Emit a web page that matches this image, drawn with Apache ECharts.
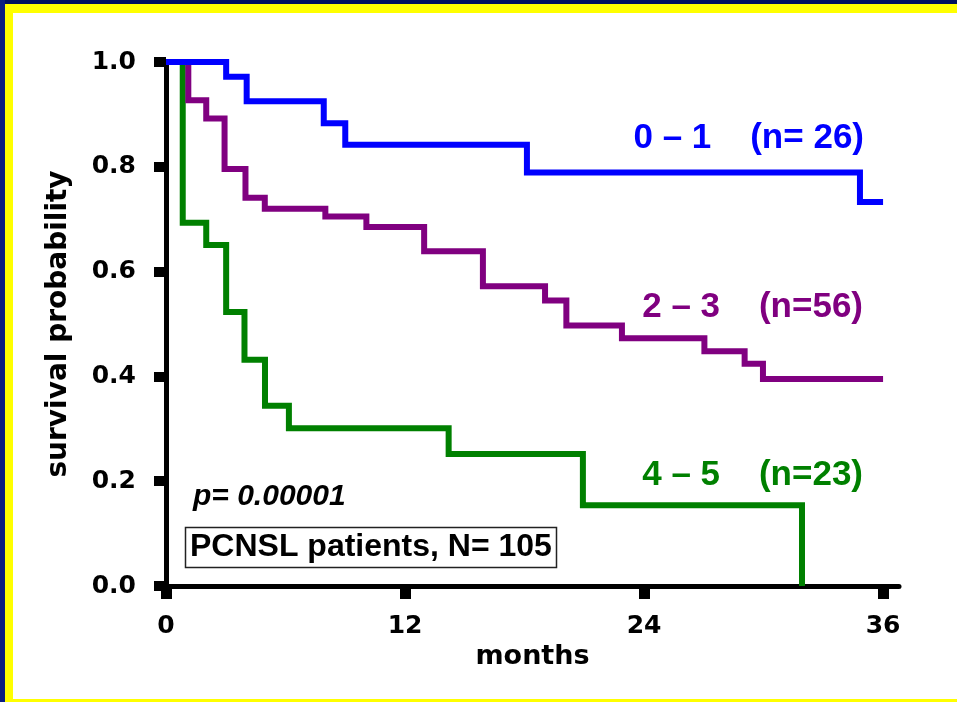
<!DOCTYPE html>
<html>
<head>
<meta charset="utf-8">
<script src="https://cdn.jsdelivr.net/npm/echarts@6/dist/echarts.min.js"></script>
<style>
  html, body { margin: 0; padding: 0; background: #ffffff; }
  #wrap { position: relative; width: 957px; height: 702px; overflow: hidden; background: #ffffff; }
  #chart { position: absolute; left: 0; top: 0; width: 957px; height: 702px; }
  .fr { position: absolute; z-index: 5; }
</style>
</head>
<body>
<div id="wrap">
  <div id="chart"></div>
  <div class="fr" style="left:0;top:0;width:957px;height:4px;background:#001060;"></div>
  <div class="fr" style="left:0;top:0;width:5px;height:702px;background:#0a1e80;"></div>
  <div class="fr" style="left:5px;top:4px;width:952px;height:9px;background:#ffff00;"></div>
  <div class="fr" style="left:5px;top:4px;width:8px;height:698px;background:#ffff00;"></div>
  <div class="fr" style="left:5px;top:699px;width:952px;height:3px;background:#ffff00;"></div>
</div>
<script>
// ---- data ----
const xTicks = [0, 12, 24, 36];
const yTicks = [0, 0.2, 0.4, 0.6, 0.8, 1.0];

const monthsBlue = [0, 3.02, 4.05, 7.92, 9.0, 18.12, 34.84, 36];
const survBlue   = [1.0, 0.972, 0.925, 0.883, 0.842, 0.789, 0.733, 0.733];

const monthsPurple = [0, 1.12, 2.02, 2.94, 3.99, 4.96, 8.0, 10.06, 12.96, 15.91, 19.03, 20.1, 22.89, 27.03, 29.05, 29.97, 36];
const survPurple   = [1.0, 0.927, 0.892, 0.796, 0.741, 0.720, 0.705, 0.685, 0.639, 0.572, 0.545, 0.497, 0.473, 0.448, 0.424, 0.395, 0.395];

const monthsGreen = [0, 0.84, 2.02, 3.02, 3.94, 4.97, 6.17, 14.19, 20.93, 31.93];
const survGreen   = [1.0, 0.693, 0.651, 0.523, 0.432, 0.344, 0.301, 0.252, 0.154, 0.0];

const labelBlue = '0 \u2013 1    (n= 26)';
const labelPurple = '2 \u2013 3    (n=56)';
const labelGreen = '4 \u2013 5    (n=23)';
const pText = 'p= 0.00001';
const boxText = 'PCNSL patients, N= 105';
const xName = 'months';
const yName = 'survival probability';

function pairs(xs, ys) { return xs.map((x, i) => [x, ys[i]]); }

const chart = echarts.init(document.getElementById('chart'), null, { renderer: 'canvas' });

const tickFont = { fontFamily: 'DejaVu Sans', fontWeight: 'bold', fontSize: 25, color: '#000' };

function stepSeries(name, color, data, z) {
  return {
    name: name,
    type: 'line',
    step: 'end',
    data: data,
    showSymbol: false,
    symbol: 'none',
    clip: false,
    z: z,
    lineStyle: { color: color, width: 6, join: 'miter', cap: 'butt' },
    emphasis: { disabled: true },
    animation: false
  };
}

const option = {
  animation: false,
  backgroundColor: 'transparent',
  grid: { left: 166, top: 62, right: 58, bottom: 116, containLabel: false, outerBoundsMode: 'none' },
  xAxis: {
    type: 'value',
    min: 0,
    max: 36.8,
    name: xName,
    nameLocation: 'middle',
    nameGap: 50,
    nameTextStyle: { fontFamily: 'DejaVu Sans', fontWeight: 'bold', fontSize: 27, color: '#000' },
    axisLine: { show: true, onZero: false, lineStyle: { color: '#000', width: 5 } },
    axisTick: { show: true, length: 13, customValues: xTicks, lineStyle: { color: '#000', width: 11 } },
    axisLabel: Object.assign({ margin: 28, customValues: xTicks }, tickFont),
    splitLine: { show: false }
  },
  yAxis: {
    type: 'value',
    min: 0,
    max: 1,
    interval: 0.2,
    name: yName,
    nameLocation: 'middle',
    nameGap: 93,
    nameRotate: 90,
    nameTextStyle: { fontFamily: 'DejaVu Sans', fontWeight: 'bold', fontSize: 28, color: '#000' },
    axisLine: { show: true, onZero: false, lineStyle: { color: '#000', width: 5 } },
    axisTick: { show: true, length: 12, customValues: yTicks, lineStyle: { color: '#000', width: 10 } },
    axisLabel: Object.assign({ margin: 30, customValues: yTicks, formatter: v => v.toFixed(1) }, tickFont),
    splitLine: { show: false }
  },
  series: [
    stepSeries('4 \u2013 5', '#008000', pairs(monthsGreen, survGreen), 2),
    stepSeries('2 \u2013 3', '#800080', pairs(monthsPurple, survPurple), 3),
    stepSeries('0 \u2013 1', '#0000ff', pairs(monthsBlue, survBlue), 4)
  ],
  graphic: [
    { type: 'text', z: 10, style: { x: 864, y: 138, text: labelBlue, align: 'right', verticalAlign: 'middle', fill: '#0000ff', font: 'bold 35px "Liberation Sans", Arial, sans-serif' } },
    { type: 'text', z: 10, style: { x: 863, y: 307, text: labelPurple, align: 'right', verticalAlign: 'middle', fill: '#800080', font: 'bold 35px "Liberation Sans", Arial, sans-serif' } },
    { type: 'text', z: 10, style: { x: 863, y: 475, text: labelGreen, align: 'right', verticalAlign: 'middle', fill: '#008000', font: 'bold 35px "Liberation Sans", Arial, sans-serif' } },
    { type: 'text', z: 10, style: { x: 193, y: 497, text: pText, align: 'left', verticalAlign: 'middle', fill: '#000', font: 'italic bold 30px "Liberation Sans", Arial, sans-serif' } },
    { type: 'rect', z: 10, shape: { x: 185.5, y: 527.5, width: 371, height: 40 }, style: { fill: '#ffffff', stroke: '#222', lineWidth: 1.5 } },
    { type: 'text', z: 11, style: { x: 190, y: 547, text: boxText, align: 'left', verticalAlign: 'middle', fill: '#000', font: 'bold 32px "Liberation Sans", Arial, sans-serif' } }
  ]
};

chart.setOption(option);
</script>
</body>
</html>
